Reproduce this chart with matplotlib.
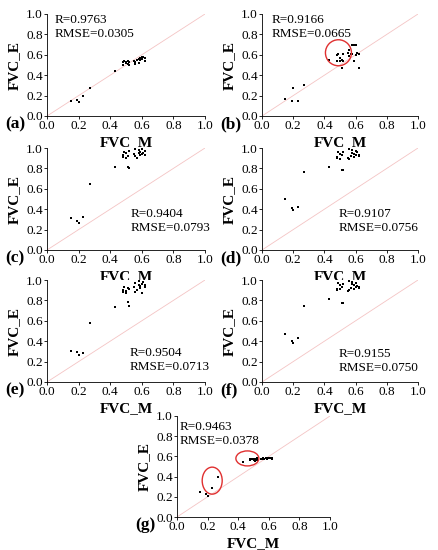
import matplotlib
matplotlib.use("Agg")
import matplotlib.pyplot as plt
from matplotlib.patches import Ellipse

plt.rcParams['font.family'] = ['Liberation Serif', 'DejaVu Serif']

# 实测值 (所有子图共用)
fvc_m = [0.15, 0.19, 0.20, 0.23, 0.27, 0.43, 0.48, 0.48, 0.49, 0.50, 0.50, 0.51, 0.51, 0.52,
         0.52, 0.55, 0.56, 0.56, 0.57, 0.58, 0.58, 0.59, 0.59, 0.60, 0.60, 0.61, 0.62, 0.62]

# 各方法估算值
fvc_e_a = [0.15, 0.16, 0.14, 0.20, 0.27, 0.44, 0.50, 0.53, 0.54, 0.52, 0.53, 0.51, 0.54, 0.50,
           0.53, 0.54, 0.51, 0.53, 0.55, 0.52, 0.56, 0.57, 0.55, 0.58, 0.56, 0.58, 0.54, 0.57]
fvc_e_b = [0.17, 0.15, 0.27, 0.15, 0.30, 0.55, 0.54, 0.60, 0.61, 0.54, 0.57, 0.47, 0.55, 0.61,
           0.54, 0.62, 0.65, 0.59, 0.61, 0.70, 0.61, 0.54, 0.70, 0.70, 0.60, 0.62, 0.47, 0.61]
fvc_e_c = [0.31, 0.28, 0.26, 0.32, 0.65, 0.81, 0.91, 0.93, 0.96, 0.90, 0.95, 0.81, 0.92, 0.80,
           0.97, 0.94, 0.99, 0.92, 0.90, 0.95, 0.98, 0.93, 0.96, 0.94, 0.99, 0.95, 0.93, 0.97]
fvc_e_d = [0.50, 0.41, 0.39, 0.42, 0.76, 0.81, 0.90, 0.91, 0.96, 0.89, 0.94, 0.78, 0.93, 0.78,
           0.96, 0.90, 0.99, 0.89, 0.92, 0.95, 0.98, 0.91, 0.94, 0.93, 0.97, 0.96, 0.92, 0.93]
fvc_e_e = [0.30, 0.29, 0.26, 0.28, 0.58, 0.74, 0.88, 0.90, 0.93, 0.87, 0.89, 0.78, 0.92, 0.75,
           0.91, 0.93, 0.97, 0.88, 0.90, 0.95, 0.99, 0.92, 0.94, 0.87, 0.96, 0.98, 0.93, 0.95]
fvc_e_f = [0.47, 0.40, 0.38, 0.43, 0.75, 0.81, 0.90, 0.91, 0.97, 0.91, 0.95, 0.77, 0.93, 0.77,
           0.96, 0.89, 0.99, 0.90, 0.92, 0.96, 0.98, 0.91, 0.95, 0.93, 0.97, 0.94, 0.92, 0.93]
fvc_e_g = [0.25, 0.23, 0.21, 0.29, 0.40, 0.54, 0.56, 0.57, 0.57, 0.56, 0.57, 0.55, 0.57, 0.56,
           0.58, 0.57, 0.57, 0.58, 0.57, 0.58, 0.58, 0.58, 0.57, 0.58, 0.58, 0.58, 0.57, 0.58]

r_vals = ["0.9763", "0.9166", "0.9404", "0.9107", "0.9504", "0.9155", "0.9463"]
rmse_vals = ["0.0305", "0.0665", "0.0793", "0.0756", "0.0713", "0.0750", "0.0378"]
panel_names = ["(a)", "(b)", "(c)", "(d)", "(e)", "(f)", "(g)"]
series = [fvc_e_a, fvc_e_b, fvc_e_c, fvc_e_d, fvc_e_e, fvc_e_f, fvc_e_g]

W, H = 438, 550
fig = plt.figure(figsize=(W / 100, H / 100), dpi=100)

# 像素坐标: 左, 上, 右, 下
boxes = [(47, 14, 205, 116), (262, 14, 418, 116),
         (47, 148, 205, 250), (262, 148, 418, 250),
         (47, 280, 205, 382), (262, 280, 418, 382),
         (177, 416, 330, 517)]
# 文字位置 (数据坐标)
txt_pos = [(0.05, 0.94), (0.06, 0.94), (0.53, 0.35), (0.49, 0.35),
           (0.52, 0.28), (0.49, 0.27), (0.02, 0.89)]

for i, (l, t, r, b) in enumerate(boxes):
    ax = fig.add_axes([l / W, 1 - b / H, (r - l) / W, (b - t) / H])
    ax.plot([0, 1], [0, 1], color='#f4c4c4', lw=0.6, zorder=1)
    ax.plot(fvc_m, series[i], 's', color='black', ms=1.8, mew=0, zorder=3)
    ax.set_xlim(0, 1.0)
    ax.set_ylim(0, 1.0)
    ticks = [0.0, 0.2, 0.4, 0.6, 0.8, 1.0]
    ax.set_xticks(ticks)
    ax.set_yticks(ticks)
    ax.set_xticklabels([f"{v:.1f}" for v in ticks])
    ax.set_yticklabels([f"{v:.1f}" for v in ticks])
    ax.tick_params(direction='out', length=2, width=0.6, labelsize=9.5, pad=1)
    for s in ['top', 'right']:
        ax.spines[s].set_visible(False)
    for s in ['left', 'bottom']:
        ax.spines[s].set_linewidth(0.6)
    ax.set_xlabel("FVC_M", fontsize=11, fontweight='bold', labelpad=3)
    ax.set_ylabel("FVC_E", fontsize=11, fontweight='bold', labelpad=4)
    tx, ty = txt_pos[i]
    ax.text(tx, ty, "R=" + r_vals[i], fontsize=9.5, va='center')
    ax.text(tx, ty - 0.135, "RMSE=" + rmse_vals[i], fontsize=9.5, va='center')
    fig.text((l - 42) / W, 1 - (b + 8) / H, panel_names[i], fontsize=12.5,
             fontweight='bold', ha='left', va='center')
    if i == 1:
        ax.add_patch(Ellipse((0.49, 0.62), 26 / (r - l), 26 / (b - t),
                             fill=False, ec='#e03030', lw=1.0, zorder=4))
    if i == 6:
        ax.add_patch(Ellipse((0.23, 0.36), 20 / (r - l), 27 / (b - t),
                             fill=False, ec='#e03030', lw=1.0, zorder=4))
        ax.add_patch(Ellipse((0.46, 0.58), 23 / (r - l), 15 / (b - t),
                             fill=False, ec='#e03030', lw=1.0, zorder=4))

fig.savefig("out.png", dpi=100)
